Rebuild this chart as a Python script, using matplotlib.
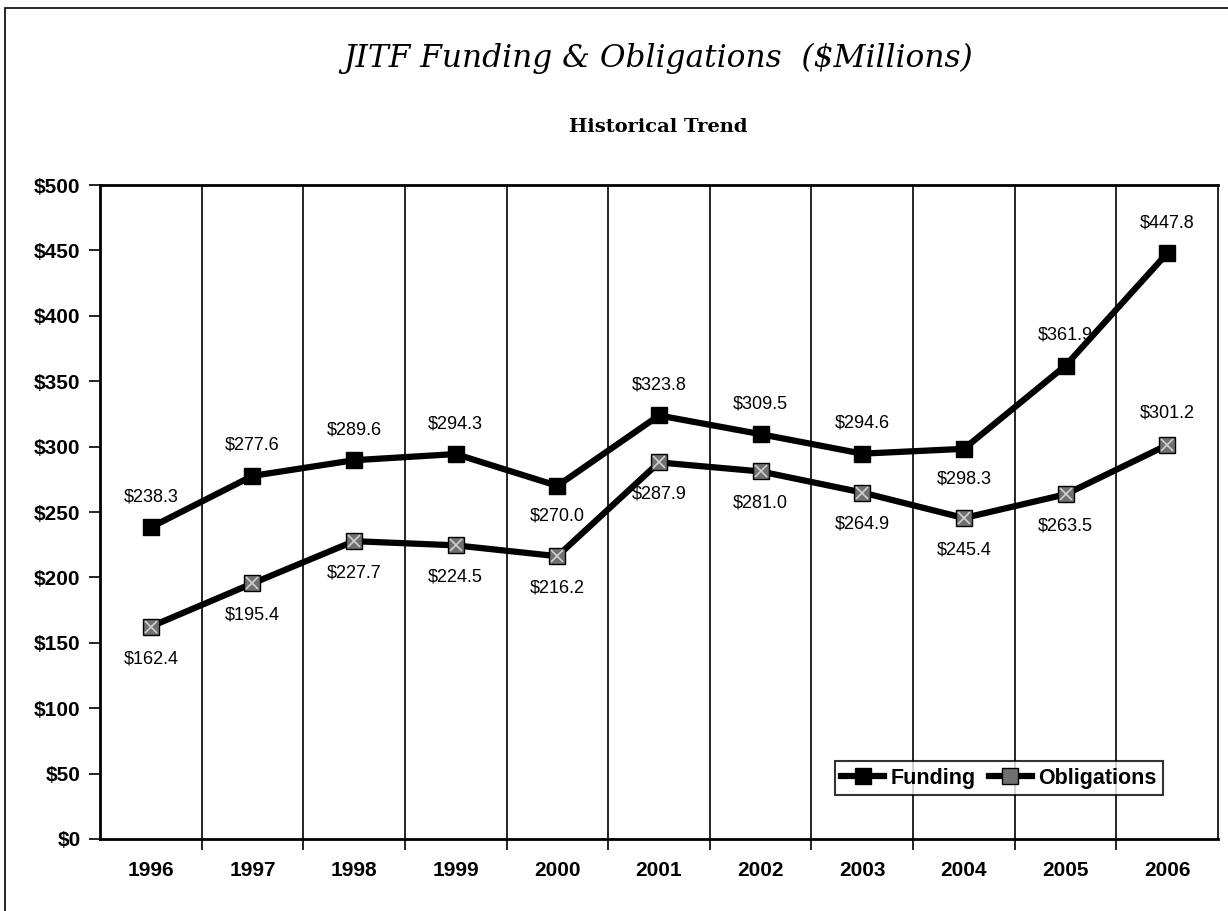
import numpy as np
import matplotlib
matplotlib.use("Agg")
import matplotlib.pyplot as plt
from matplotlib.patches import Rectangle

# Chart data
years = ["1996", "1997", "1998", "1999", "2000", "2001", "2002", "2003", "2004", "2005", "2006"]
funding = [238.3, 277.6, 289.6, 294.3, 270.0, 323.8, 309.5, 294.6, 298.3, 361.9, 447.8]
obligations = [162.4, 195.4, 227.7, 224.5, 216.2, 287.9, 281.0, 264.9, 245.4, 263.5, 301.2]
y_ticks = [0, 50, 100, 150, 200, 250, 300, 350, 400, 450, 500]

# label placement: +1 above the point, -1 below
funding_side = [1, 1, 1, 1, -1, 1, 1, 1, -1, 1, 1]
obligations_side = [-1, -1, -1, -1, -1, -1, -1, -1, -1, -1, 1]

plt.rcParams['font.family'] = ['Liberation Sans', 'DejaVu Sans']

fig = plt.figure(figsize=(12.28, 9.11), dpi=100)
ax = fig.add_axes([100 / 1228, 72 / 911, 1118 / 1228, 654 / 911])

x = np.arange(len(years))

# Funding line: solid black squares
ax.plot(x, funding, color='black', lw=4.5, marker='s', markersize=11,
        markerfacecolor='black', markeredgecolor='black', label='Funding', zorder=3)
# Obligations line: hatched-looking squares
ax.plot(x, obligations, color='black', lw=4.5, marker='s', markersize=11,
        markerfacecolor='#707070', markeredgecolor='black', label='Obligations', zorder=3)
ax.plot(x, obligations, linestyle='none', marker='x', markersize=8,
        markeredgecolor='#d0d0d0', markeredgewidth=1.2, zorder=4)

# Data labels
for xi, v, s in zip(x, funding, funding_side):
    ax.annotate(f"${v:.1f}", (xi, v), xytext=(0, 22 * s), textcoords='offset points',
                ha='center', va='center', fontsize=13)
for xi, v, s in zip(x, obligations, obligations_side):
    ax.annotate(f"${v:.1f}", (xi, v), xytext=(0, 23 * s), textcoords='offset points',
                ha='center', va='center', fontsize=13)

# Axes
ax.set_xlim(-0.5, len(years) - 0.5)
ax.set_ylim(0, 500)
ax.set_yticks(y_ticks)
ax.set_yticklabels([f"${t}" for t in y_ticks], fontsize=15, fontweight='bold')
ax.set_xticks(x)
ax.set_xticklabels(years, fontsize=15, fontweight='bold')
ax.tick_params(axis='x', which='major', length=0, pad=16)
ax.set_xticks(x[:-1] + 0.5, minor=True)
ax.tick_params(axis='x', which='minor', length=8, width=1.2, direction='out')
ax.tick_params(axis='y', length=8, width=1.2, direction='out', pad=6)

# vertical gridlines between categories
for b in x[:-1] + 0.5:
    ax.axvline(b, color='black', lw=1.2, zorder=1)

for side in ['top', 'bottom', 'left']:
    ax.spines[side].set_linewidth(2)
ax.spines['right'].set_linewidth(1.2)

# Legend
leg = ax.legend(loc='lower right', bbox_to_anchor=(0.951, 0.067), ncol=2, fontsize=15.5,
                frameon=True, fancybox=False, edgecolor='black', handlelength=2.0,
                handletextpad=0.3, columnspacing=0.6, borderpad=0.3, borderaxespad=0)
for t in leg.get_texts():
    t.set_fontweight('bold')
leg.get_frame().set_linewidth(1.5)

# Titles
fig.text(0.536, 0.936, "JITF Funding & Obligations  ($Millions)", ha='center', va='center',
         fontsize=22.5, style='italic', family='DejaVu Serif')
fig.text(0.536, 0.861, "Historical Trend", ha='center', va='center',
         fontsize=14, fontweight='bold', family='DejaVu Serif')

# outer frame
fig.patches.append(Rectangle((5 / 1228, -0.05), 1.2, 0.05 + 903 / 911, transform=fig.transFigure,
                             fill=False, edgecolor='black', lw=1.2))

fig.savefig("out.png", dpi=100)
